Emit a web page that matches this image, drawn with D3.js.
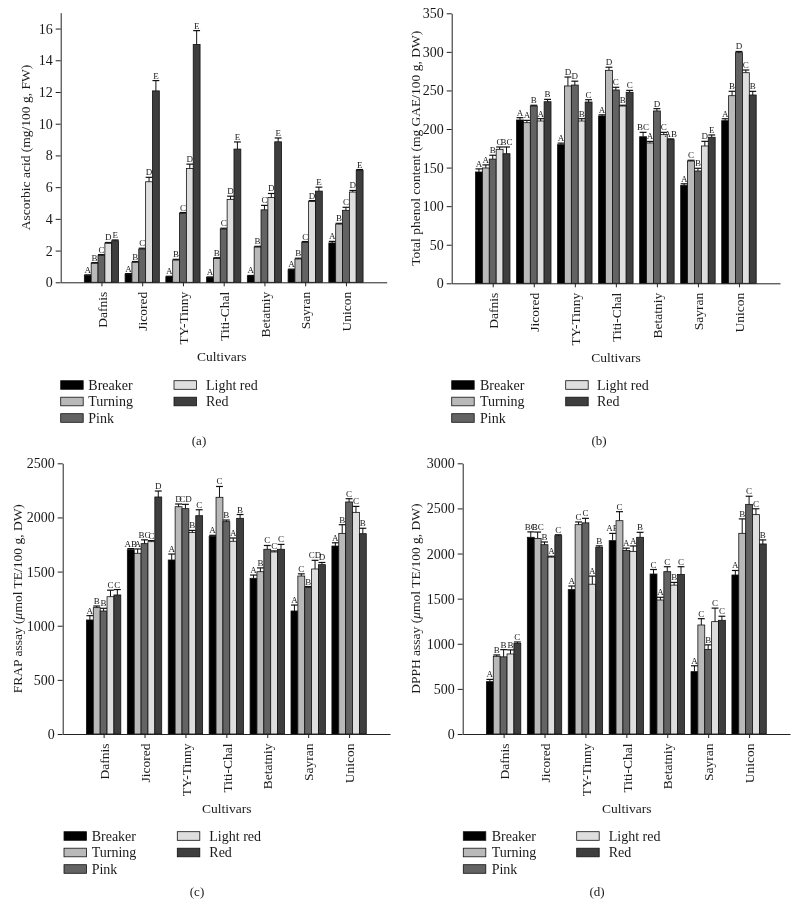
<!DOCTYPE html>
<html><head><meta charset="utf-8">
<script src="https://cdn.jsdelivr.net/npm/d3@7"></script>
<style>
body{margin:0;background:#fff}
svg{display:block}
text{font-family:"Liberation Serif","Times New Roman",serif;fill:#1a1a1a}
</style>
</head><body><svg id="c" width="799" height="918"></svg>
<script>
const cultivars = ["Dafnis","Jicored","TY-Tinny","Titi-Chal","Betatniy","Sayran","Unicon"];
const stages = ["Breaker","Turning","Pink","Light red","Red"];
const stageColors = ["#000000","#b9b9b9","#636363","#dedede","#3e3e3e"];

const ascorbicTicks = [0,2,4,6,8,10,12,14,16];
const ascorbicMean = [
 [0.44,1.20,1.70,2.46,2.62],
 [0.52,1.26,2.10,6.34,12.07],
 [0.35,1.40,4.35,7.18,15.00],
 [0.31,1.50,3.36,5.23,8.40],
 [0.40,2.22,4.57,5.35,8.86],
 [0.80,1.47,2.52,5.10,5.75],
 [2.48,3.67,4.54,5.69,7.06]];
const ascorbicErr = [
 [0.03,0.04,0.05,0.05,0.05],
 [0.03,0.05,0.05,0.28,0.65],
 [0.03,0.05,0.05,0.27,0.87],
 [0.03,0.05,0.05,0.20,0.45],
 [0.03,0.05,0.28,0.25,0.24],
 [0.03,0.05,0.05,0.05,0.25],
 [0.10,0.05,0.19,0.10,0.05]];
const ascorbicLetters = [
 ["A","B","C","D","E"],["A","B","C","D","E"],["A","B","C","D","E"],["A","B","C","D","E"],
 ["A","B","C","D","E"],["A","B","C","D","E"],["A","B","C","D","E"]];

const phenolTicks = [0,50,100,150,200,250,300,350];
const phenolMean = [
 [144.3,149.5,161.0,173.7,168.0],
 [211.7,208.2,229.8,210.4,235.4],
 [179.7,255.8,257.0,210.4,235.0],
 [216.9,276.1,250.6,229.8,247.6],
 [190.0,181.9,223.4,192.7,186.2],
 [127.0,158.5,145.6,178.0,189.3],
 [210.8,243.2,299.0,273.0,244.1]];
const phenolErr = [
 [4,4,5,3,8.7],[3,3,1,3,3],[2,11.6,5,3,3],[1.5,4,3.5,1,2.5],
 [5.7,2,3,3,1],[2,1,3.5,6,3],[2.5,5.7,1.5,3.5,4.7]];
const phenolLetters = [
 ["A","A","B","C","BC"],["A","A","B","A","B"],["A","D","D","B","C"],["A","D","C","B","C"],
 ["BC","A","D","C","AB"],["A","C","B","D","E"],["A","B","D","C","B"]];

const frapTicks = [0,500,1000,1500,2000,2500];
const frapMean = [
 [1053,1167,1136,1268,1284],
 [1702,1669,1758,1776,2189],
 [1607,2099,2081,1860,2016],
 [1825,2186,1961,1780,1992],
 [1438,1499,1706,1681,1706],
 [1136,1459,1352,1524,1564],
 [1736,1853,2143,2047,1850]];
const frapErr = [
 [40,15,25,60,50],[10,40,35,10,55],[55,25,40,20,55],[10,100,15,30,35],
 [30,35,35,10,45],[55,20,10,80,20],[30,80,30,55,50]];
const frapLetters = [
 ["A","B","B","C","C"],["AB","A","BC","C","D"],["A","D","CD","B","C"],["A","C","B","A","B"],
 ["A","B","C","C","C"],["A","C","B","CD","D"],["A","B","C","C","B"]];

const dpphTicks = [0,500,1000,1500,2000,2500,3000];
const dpphMean = [
 [580,861,855,887,1005],
 [2180,2168,2098,1960,2198],
 [1600,2320,2340,1660,2070],
 [2143,2364,2035,2024,2180],
 [1773,1485,1799,1650,1769],
 [691,1208,938,1245,1260],
 [1762,2224,2545,2431,2106]];
const dpphErr = [
 [25,15,80,45,15],[60,70,30,10,10],[40,30,50,90,15],[80,100,25,60,55],
 [50,30,55,30,85],[65,70,50,150,45],[50,160,90,65,45]];
const dpphLetters = [
 ["A","B","B","B","C"],["BC","BC","B","A","C"],["A","C","C","A","B"],["AB","C","A","A","B"],
 ["C","A","C","B","C"],["A","C","B","C","C"],["A","B","C","C","B"]];

const svg = d3.select("#c");
const root = svg.append("g").style("opacity", 0.999);

const panels = [
 {mean:ascorbicMean, err:ascorbicErr, letters:ascorbicLetters, ticks:ascorbicTicks, yMax:17,
  left:60.7, right:386.7, top:12.7, bottom:282.3, labelX:25,
  ylabel:["Ascorbic acid (mg/100 g, FW)"], tag:"(a)", tagX:199, tagY:445,
  legX:60.7, legTX:88.3, leg2X:174, leg2TX:206, legY:385, xTitleX:221.7},
 {mean:phenolMean, err:phenolErr, letters:phenolLetters, ticks:phenolTicks, yMax:350,
  left:451.7, right:780, top:13.3, bottom:283.3, labelX:415,
  ylabel:["Total phenol content (mg GAE/100 g, DW)"], tag:"(b)", tagX:599, tagY:445,
  legX:451.7, legTX:480, leg2X:565.7, leg2TX:597, legY:385, xTitleX:616},
 {mean:frapMean, err:frapErr, letters:frapLetters, ticks:frapTicks, yMax:2500,
  left:62.7, right:390, top:463.3, bottom:734, labelX:17,
  ylabel:["FRAP assay (","μ","mol TE/100 g, DW)"], tag:"(c)", tagX:197, tagY:896,
  legX:64, legTX:91.7, leg2X:177.3, leg2TX:209.3, legY:836, xTitleX:226.7},
 {mean:dpphMean, err:dpphErr, letters:dpphLetters, ticks:dpphTicks, yMax:3000,
  left:462.7, right:790, top:463.3, bottom:734, labelX:415,
  ylabel:["DPPH assay (","μ","mol TE/100 g, DW)"], tag:"(d)", tagX:597, tagY:896,
  legX:463.3, legTX:491.7, leg2X:576.7, leg2TX:608.7, legY:836, xTitleX:626.7}
];

panels.forEach(p => {
  const g = root.append("g");
  const x = d3.scalePoint().domain(cultivars).range([p.left, p.right]).padding(1);
  const y = d3.scaleLinear().domain([0, p.yMax]).range([p.bottom, p.top]);
  const bw = x.step() * 0.168;

  // bars
  cultivars.forEach((c, ci) => {
    stages.forEach((s, si) => {
      const v = p.mean[ci][si], e = p.err[ci][si];
      const cx = x(c) + (si - 2) * bw;
      g.append("rect")
        .attr("x", cx - bw/2).attr("y", y(v))
        .attr("width", bw).attr("height", y(0) - y(v))
        .attr("fill", stageColors[si]).attr("stroke", "#111").attr("stroke-width", 0.8);
      const yt = y(v + e);
      g.append("line").attr("x1", cx).attr("x2", cx).attr("y1", y(v)).attr("y2", yt)
        .attr("stroke", "#111").attr("stroke-width", 1);
      g.append("line").attr("x1", cx - bw*0.5).attr("x2", cx + bw*0.5).attr("y1", yt).attr("y2", yt)
        .attr("stroke", "#111").attr("stroke-width", 1.2);
      g.append("text").attr("x", cx).attr("y", yt - 2)
        .attr("text-anchor", "middle").attr("font-size", "9px").attr("fill", "#333")
        .text(p.letters[ci][si]);
    });
  });

  // y axis
  const ya = g.append("g").attr("transform", `translate(${p.left},0)`)
    .call(d3.axisLeft(y).tickValues(p.ticks).tickFormat(d3.format("d")).tickSize(5).tickSizeOuter(0).tickPadding(3));
  ya.selectAll("text").attr("font-size", "14px").attr("font-family", "Liberation Serif, serif").attr("fill", "#1a1a1a");
  ya.selectAll("path,line").attr("stroke", "#222");

  // x axis
  const xa = g.append("g").attr("transform", `translate(0,${p.bottom})`)
    .call(d3.axisBottom(x).tickSize(4).tickSizeOuter(0));
  xa.selectAll("path,line").attr("stroke", "#222");
  xa.selectAll("text")
    .attr("transform", "rotate(-90)")
    .attr("text-anchor", "end")
    .attr("x", -9.5).attr("y", 0).attr("dy", "0.35em")
    .attr("font-size", "13.5px").attr("font-family", "Liberation Serif, serif").attr("fill", "#1a1a1a");

  // y label
  const yl = g.append("text")
    .attr("transform", `translate(${p.labelX},${(p.top + p.bottom)/2}) rotate(-90)`)
    .attr("text-anchor", "middle").attr("dy", "0.35em").attr("font-size", "13.5px");
  p.ylabel.forEach(t => {
    const ts = yl.append("tspan").text(t);
    if (t === "μ") ts.attr("font-style", "italic");
  });

  // x title
  g.append("text").attr("x", p.xTitleX).attr("y", p.bottom + 79)
    .attr("text-anchor", "middle").attr("font-size", "13.5px").text("Cultivars");

  // legend
  const legPos = [
    [p.legX, p.legTX, 0], [p.legX, p.legTX, 1], [p.legX, p.legTX, 2],
    [p.leg2X, p.leg2TX, 0], [p.leg2X, p.leg2TX, 1]
  ];
  stages.forEach((s, si) => {
    const [sx, tx, row] = legPos[si];
    const cy = p.legY + row * 16.5;
    g.append("rect").attr("x", sx).attr("y", cy - 4.3).attr("width", 22.5).attr("height", 8.6)
      .attr("fill", stageColors[si]).attr("stroke", "#111").attr("stroke-width", 0.8);
    g.append("text").attr("x", tx).attr("y", cy + 4.5).attr("font-size", "14px").text(s);
  });

  // panel tag
  g.append("text").attr("x", p.tagX).attr("y", p.tagY).attr("text-anchor", "middle")
    .attr("font-size", "13px").text(p.tag);
});
</script>
</body></html>
